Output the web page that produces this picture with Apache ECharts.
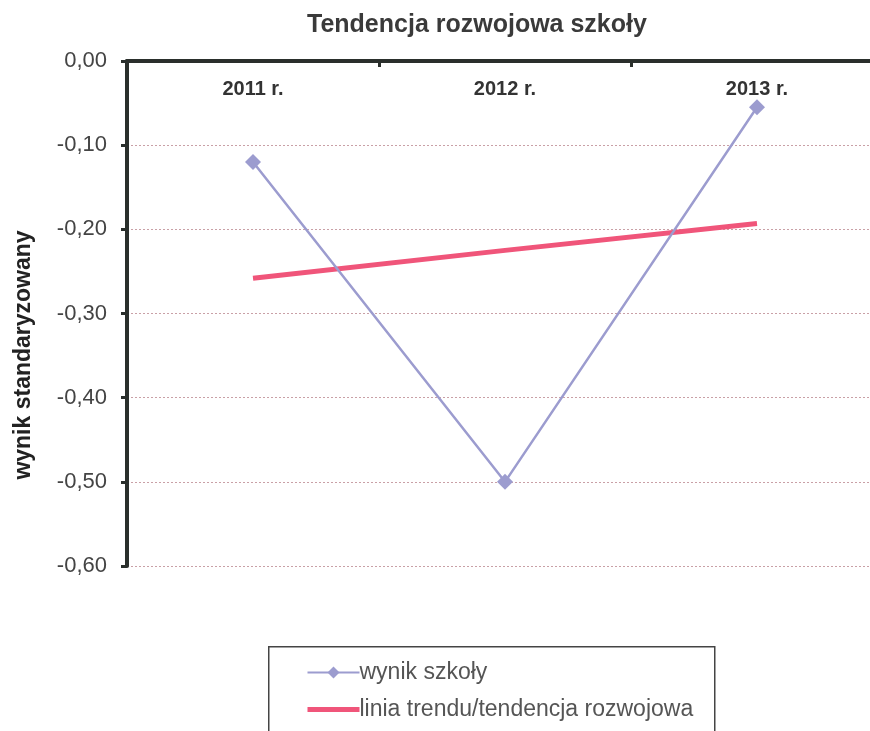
<!DOCTYPE html>
<html>
<head>
<meta charset="utf-8">
<script src="https://cdn.jsdelivr.net/npm/echarts@6/dist/echarts.min.js"></script>
<style>
html,body{margin:0;padding:0;background:#fff;overflow:hidden;}
#chart{width:890px;height:731px;}
</style>
</head>
<body>
<div id="chart"></div>
<script>
var categories = ['2011 r.', '2012 r.', '2013 r.'];
var wynikSzkoly = [-0.12, -0.50, -0.055];
var liniaTrendu = [-0.258, -0.225, -0.193];
var seriesNames = ['wynik szkoły', 'linia trendu/tendencja rozwojowa'];
var yAxisName = 'wynik standaryzowany';
var chartTitle = 'Tendencja rozwojowa szkoły';

var font = 'Liberation Sans, Arial, sans-serif';
var chart = echarts.init(document.getElementById('chart'));
chart.setOption({
  animation: false,
  backgroundColor: '#ffffff',
  title: {
    text: chartTitle,
    left: 302, top: 8,
    textStyle: { fontFamily: font, fontSize: 25, fontWeight: 'bold', color: '#3a3a3a' }
  },
  grid: { left: 127, top: 61, width: 756, height: 505, containLabel: false },
  graphic: [{
    type: 'rect', left: 268, top: 646, z: 0,
    shape: { width: 446, height: 110 },
    style: { fill: '#fff', stroke: '#444', lineWidth: 1.5 }
  }, {
    type: 'text', x: 24, y: 355, rotation: Math.PI / 2, z: 5,
    style: {
      text: yAxisName, fontFamily: font, fontSize: 23, fontWeight: 'bold',
      fill: '#222', align: 'center', verticalAlign: 'middle'
    }
  }],
  legend: {
    orient: 'vertical', left: 300, top: 656, itemGap: 14,
    itemWidth: 52, itemHeight: 15,
    data: [
      { name: seriesNames[0] },
      { name: seriesNames[1], lineStyle: { width: 5 } }
    ],
    textStyle: { fontFamily: font, fontSize: 23, color: '#555', padding: [0, 0, 0, -5] },
    z: 5
  },
  xAxis: {
    type: 'category', position: 'top', data: categories, boundaryGap: true,
    axisLine: { show: true, lineStyle: { color: '#2a2f2c', width: 4 } },
    axisTick: { show: true, inside: true, length: 6, lineStyle: { color: '#2a2f2c', width: 3 } },
    axisLabel: { inside: true, margin: 18, fontFamily: font, fontSize: 20, fontWeight: 'bold', color: '#333' },
    splitLine: { show: false }
  },
  yAxis: {
    type: 'value', min: -0.6, max: 0, interval: 0.1,
    axisLine: { show: true, lineStyle: { color: '#2a2f2c', width: 4 } },
    axisTick: { show: true, length: 6, lineStyle: { color: '#2a2f2c', width: 3 } },
    axisLabel: {
      margin: 20, fontFamily: font, fontSize: 22, color: '#444',
      formatter: function (v) { return v.toFixed(2).replace('.', ','); }
    },
    splitLine: { show: true, lineStyle: { color: '#c9a0a6', width: 1, type: [2, 2] } }
  },
  series: [{
    name: seriesNames[0], type: 'line', data: wynikSzkoly,
    symbol: 'diamond', symbolSize: 16,
    lineStyle: { color: '#9c9ccf', width: 2.5 },
    itemStyle: { color: '#9c9ccf' },
    z: 3
  }, {
    name: seriesNames[1], type: 'line', data: liniaTrendu,
    symbol: 'circle', showSymbol: false,
    lineStyle: { color: '#f0557a', width: 5 },
    itemStyle: { color: '#f0557a', opacity: 0 },
    z: 2
  }]
});
</script>
</body>
</html>
